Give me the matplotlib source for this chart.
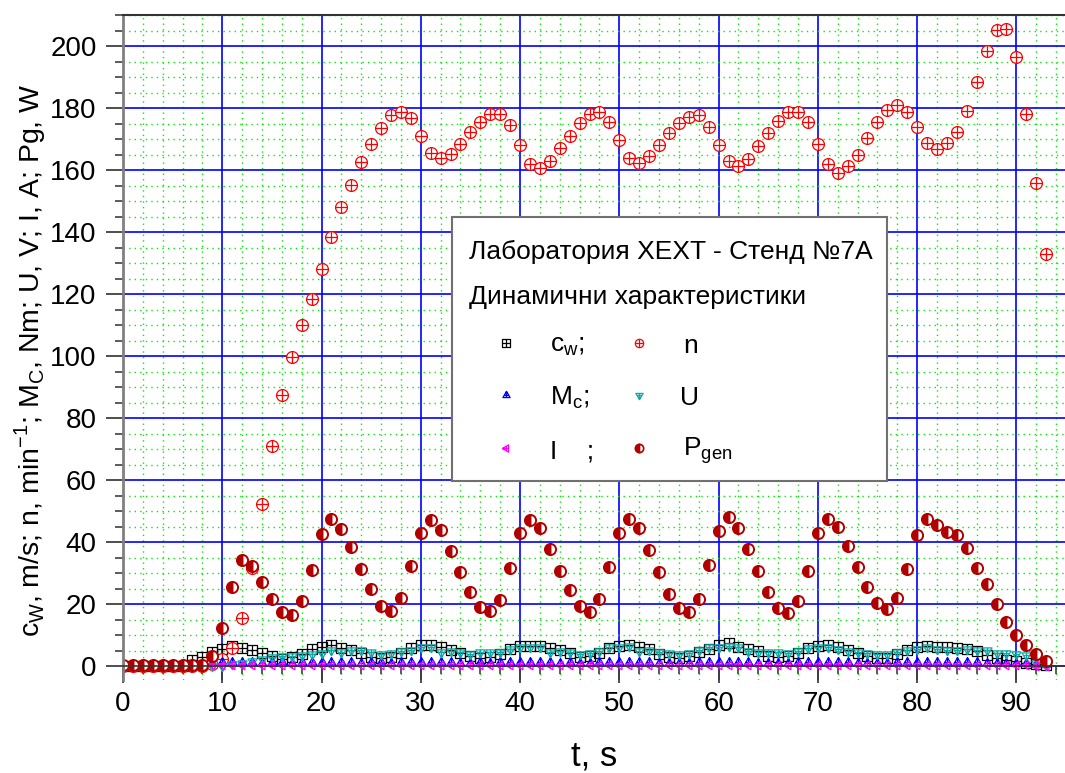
import matplotlib
matplotlib.use("Agg")
import matplotlib.pyplot as plt
from matplotlib.path import Path
from matplotlib.patches import Rectangle
from matplotlib.lines import Line2D
from matplotlib.ticker import MultipleLocator

plt.rcParams['font.family'] = ['Liberation Sans', 'DejaVu Sans']
plt.rcParams['mathtext.fontset'] = 'custom'
plt.rcParams['mathtext.rm'] = 'Liberation Sans'

# time, s
t = list(range(94))

n = [0, 0, 0, 0, 0, 0, 0, 0, 0, 0.8,
     2.3, 5.9, 15.5, 31.5, 52.3, 70.9, 87.4, 99.7, 110, 118.4,
     128, 138.4, 148, 155.2, 162.6, 168.4, 173.5, 177.7, 178.7, 176.8,
     171, 165.5, 163.9, 165.2, 168.4, 172.3, 175.5, 178, 178, 174.5,
     168.1, 161.9, 160.6, 162.9, 167.1, 171, 175.2, 178, 178.7, 175.5,
     169.7, 163.9, 162.3, 164.5, 168.1, 171.9, 175.2, 177.1, 177.7, 173.9,
     168.1, 162.9, 161.3, 163.5, 167.7, 171.9, 175.8, 178.7, 178.7, 175.5,
     168.4, 161.9, 159, 161.3, 164.8, 170.3, 175.5, 179.4, 181, 178.6,
     173.8, 168.7, 166.7, 168.6, 172.3, 179, 188.5, 198.4, 205.3, 205.5,
     196.3, 178.2, 155.8, 132.9]

p_gen = [0.3, 0.3, 0.3, 0.3, 0.3, 0.3, 0.3, 0.3, 0.3, 3.1,
         12.2, 25.6, 34.1, 32.4, 27.1, 21.7, 17.3, 16.5, 21.1, 31.1,
         42.5, 47.4, 44.3, 38.3, 31.2, 24.8, 19.3, 17.7, 22, 32.4,
         42.9, 47.1, 44, 37.2, 30.4, 23.8, 18.9, 17.6, 21.4, 31.5,
         42.9, 47.1, 44.6, 37.7, 30.7, 24.6, 19.3, 17.4, 21.6, 31.8,
         42.9, 47.3, 44.4, 37.5, 30.4, 23.3, 18.6, 17.3, 21.7, 32.6,
         43.5, 48.1, 44.6, 37.7, 30.5, 23.8, 18.6, 17, 20.9, 30.7,
         42.9, 47.5, 44.8, 38.8, 31.9, 25.6, 20.3, 18.5, 21.8, 31.3,
         42.3, 47.5, 45.6, 43.1, 42.3, 38, 31.7, 26.4, 19.9, 14.3,
         10, 6.9, 3.9, 1.7]

c_w = [0, 0, 0, 0, 0, 0, 0, 2.0, 3.0, 4.4,
       5.5, 6.5, 5.9, 5.2, 4.1, 3.1, 2.4, 2.9, 3.9, 5.5,
       6.3, 6.9, 5.8, 5.2, 4.1, 3.0, 2.6, 2.8, 4.2, 5.7,
       6.8, 6.9, 6.1, 5.3, 4.2, 3.3, 2.7, 2.9, 3.9, 5.4,
       6.6, 6.6, 6.6, 5.8, 5.1, 4.1, 3.0, 3.2, 4.3, 5.8,
       6.6, 6.9, 6.2, 5.4, 4.0, 2.8, 2.6, 3.2, 4.4, 5.5,
       6.8, 7.3, 6.2, 5.5, 4.9, 3.3, 2.9, 3.3, 4.2, 5.8,
       6.6, 6.8, 6.3, 5.3, 4.2, 3.3, 2.7, 2.6, 4.0, 5.1,
       6.2, 6.6, 6.2, 6.0, 5.7, 5.5, 4.9, 3.5, 2.7, 2.0,
       1.6, 1.1, 0.6, 0.3]

u = [0, 0, 0, 0, 0, 0, 0, 0, 0, 0,
     0, 0.5, 1.0, 1.5, 2.2, 2.9, 3.1, 3.2, 3.7, 4.0,
     4.2, 5.3, 4.6, 5.3, 5.1, 4.6, 4.0, 4.3, 4.7, 5.2,
     6.1, 6.0, 4.5, 5.0, 4.5, 4.0, 4.5, 4.5, 4.5, 5.5,
     6.3, 6.3, 6.2, 4.5, 5.0, 4.5, 4.0, 4.3, 5.0, 6.0,
     6.3, 6.6, 5.0, 5.3, 4.5, 4.2, 4.0, 4.3, 5.2, 6.0,
     6.3, 6.6, 6.0, 4.9, 4.6, 4.6, 4.4, 4.2, 4.9, 5.7,
     6.0, 6.3, 5.5, 4.9, 4.4, 4.2, 3.9, 3.9, 4.6, 5.3,
     5.5, 6.0, 5.5, 5.3, 5.3, 5.5, 5.3, 5.3, 4.2, 4.2,
     3.9, 3.5, 1.0, 0.3]

m_c = [0.6, 0.6, 0.6, 0.6, 0.6, 0.6, 0.6, 0.6, 0.6, 1.1,
       1.2, 1.3, 1.2, 1.2, 1.1, 1.2, 1.2, 1.1, 1.2, 1.3,
       1.2, 1.3, 1.2, 1.2, 1.1, 1.2, 1.2, 1.1, 1.2, 1.2,
       1.3, 1.3, 1.2, 1.2, 1.1, 1.1, 1.2, 1.1, 1.2, 1.2,
       1.3, 1.3, 1.2, 1.2, 1.1, 1.2, 1.1, 1.1, 1.2, 1.2,
       1.3, 1.3, 1.2, 1.2, 1.1, 1.1, 1.1, 1.1, 1.2, 1.2,
       1.3, 1.3, 1.3, 1.2, 1.1, 1.1, 1.1, 1.1, 1.2, 1.2,
       1.3, 1.3, 1.2, 1.2, 1.1, 1.1, 1.1, 1.1, 1.2, 1.2,
       1.3, 1.3, 1.3, 1.2, 1.2, 1.2, 1.2, 1.1, 1.1, 1.0,
       1.0, 0.9, 0.8, 0.5]

i_a = [0, 0, 0, 0, 0, 0, 0, 0, 0, 0.3,
       0.3, 0.4, 0.4, 0.3, 0.3, 0.3, 0.3, 0.3, 0.3, 0.4,
       0.4, 0.4, 0.4, 0.3, 0.3, 0.3, 0.3, 0.3, 0.3, 0.4,
       0.4, 0.4, 0.4, 0.3, 0.3, 0.3, 0.3, 0.3, 0.3, 0.4,
       0.4, 0.4, 0.4, 0.3, 0.3, 0.3, 0.3, 0.3, 0.3, 0.4,
       0.4, 0.4, 0.4, 0.3, 0.3, 0.3, 0.3, 0.3, 0.3, 0.4,
       0.4, 0.4, 0.4, 0.3, 0.3, 0.3, 0.3, 0.3, 0.3, 0.4,
       0.4, 0.4, 0.4, 0.3, 0.3, 0.3, 0.3, 0.3, 0.3, 0.4,
       0.4, 0.4, 0.4, 0.4, 0.4, 0.3, 0.3, 0.3, 0.3, 0.2,
       0.2, 0.2, 0.1, 0.1]

# marker shapes like Origin's "crossed" symbols
M, L, C = Path.MOVETO, Path.LINETO, Path.CLOSEPOLY
cross = Path([(-1, 0), (1, 0), (0, -1), (0, 1)], [M, L, M, L])
sq_plus = Path([(-1, -1), (1, -1), (1, 1), (-1, 1), (-1, -1),
                (-1, 0), (1, 0), (0, -1), (0, 1)],
               [M, L, L, L, C, M, L, M, L])
circ_plus = Path.make_compound_path(Path.unit_circle(), cross)
tri_up = Path([(0, 1), (-0.87, -0.5), (0.87, -0.5), (0, 1),
               (-0.58, 0), (0.58, 0), (0, 1), (0, -0.5)],
              [M, L, L, C, M, L, M, L])
tri_dn = Path([(0, -1), (-0.87, 0.5), (0.87, 0.5), (0, -1),
               (-0.58, 0), (0.58, 0), (0, -1), (0, 0.5)],
              [M, L, L, C, M, L, M, L])
tri_lt = Path([(-1, 0), (0.5, 0.87), (0.5, -0.87), (-1, 0),
               (0, 0.58), (0, -0.58), (-1, 0), (0.5, 0)],
              [M, L, L, C, M, L, M, L])

dark_red = '#b00000'
teal = '#10a8a8'

fig = plt.figure(figsize=(10.65, 7.73), dpi=100)
ax = fig.add_axes([123 / 1065, 93 / 773, 943 / 1065, 665 / 773])

ax.plot(t, c_w, ls='none', marker=sq_plus, ms=7, mfc='none', mec='black', mew=0.9)
ax.plot(t, n, ls='none', marker=circ_plus, ms=8.5, mfc='white', mec='red', mew=0.9)
ax.plot(t, m_c, ls='none', marker=tri_up, ms=7, mfc='none', mec='blue', mew=0.9)
ax.plot(t, u, ls='none', marker=tri_dn, ms=7.5, mfc='none', mec=teal, mew=0.9)
ax.plot(t, i_a, ls='none', marker=tri_lt, ms=7, mfc='none', mec='magenta', mew=0.9)
ax.plot(t, p_gen, ls='none', marker='o', ms=8, fillstyle='left', mfc=dark_red,
        mfcalt='white', mec=dark_red, mew=1.4)

ax.set_xlim(0, 95)
ax.set_ylim(-4.5, 210)

ax.xaxis.set_minor_locator(MultipleLocator(2))
ax.yaxis.set_minor_locator(MultipleLocator(5))
ax.set_xticks(range(0, 100, 10))
ax.set_yticks(range(0, 201, 20))

ax.grid(which='minor', color='#00ee00', ls=(0, (1, 3)), lw=1.0)
ax.grid(which='major', color='#0000ff', ls='-', lw=1.2)
ax.set_axisbelow(True)

ax.spines['right'].set_visible(False)
ax.spines['top'].set_color('#333333')
ax.spines['top'].set_linewidth(1.5)
ax.spines['left'].set_color('#808080')
ax.spines['left'].set_linewidth(2)
ax.spines['bottom'].set_position(('data', 0))
ax.spines['bottom'].set_color('#333333')
ax.spines['bottom'].set_linewidth(1.2)

ax.tick_params(which='major', direction='out', length=12, width=1.3, color='#404040',
               labelsize=20)
ax.tick_params(which='minor', direction='out', length=6, width=1.2, color='#404040')
ax.tick_params(axis='x', which='major', pad=6)
ax.tick_params(axis='y', which='major', pad=7)

fig.text(594 / 1065, 8 / 773, 't, s', ha='center', va='baseline', fontsize=25)
fig.text(30 / 1065, 1 - 360 / 773,
         r'c$_\mathregular{W}$, m/s; n, min$^\mathregular{-1}$; M$_\mathregular{C}$, Nm; '
         r'U, V; I, A; Pg, W',
         rotation=90, ha='center', va='center', fontsize=20.5)

# legend box
fig.add_artist(Rectangle((452 / 1065, 1 - 481 / 773), 435 / 1065, 264 / 773,
                         transform=fig.transFigure, facecolor='white',
                         edgecolor='#707070', lw=1.5, zorder=10))
fs = 19
fig.text(469 / 1065, 1 - 252 / 773, 'Лаборатория XEXT - Стенд №7А', fontsize=fs,
         ha='left', va='center', zorder=11)
fig.text(469 / 1065, 1 - 297 / 773, 'Динамични характеристики', fontsize=fs,
         ha='left', va='center', zorder=11)

rows = [343, 395, 448]
leg = [
    (506, rows[0], sq_plus, 'none', 'black', 550, r'c$_\mathregular{w}$;'),
    (639, rows[0], circ_plus, 'none', 'red', 683, 'n'),
    (506, rows[1], tri_up, 'none', 'blue', 550, r'M$_\mathregular{c}$;'),
    (639, rows[1], tri_dn, 'none', teal, 680, 'U'),
    (506, rows[2], tri_lt, 'none', 'magenta', 550, 'I    ;'),
    (639, rows[2], 'o', dark_red, dark_red, 683, r'P$_\mathregular{gen}$'),
]
for mx, my, mk, fc, ec, tx, label in leg:
    ln = Line2D([mx / 1065], [1 - my / 773], transform=fig.transFigure, ls='none',
                marker=mk, ms=6, mfc=fc, mec=ec, mew=0.9, zorder=11)
    if mk == 'o':
        ln.set_fillstyle('left')
        ln.set_markerfacecoloralt('white')
        ln.set_markeredgewidth(1.2)
    fig.add_artist(ln)
    fig.text(tx / 1065, 1 - (my + 3) / 773, label, fontsize=fs, ha='left', va='center',
             zorder=11)

plt.savefig('out.png', dpi=100)
